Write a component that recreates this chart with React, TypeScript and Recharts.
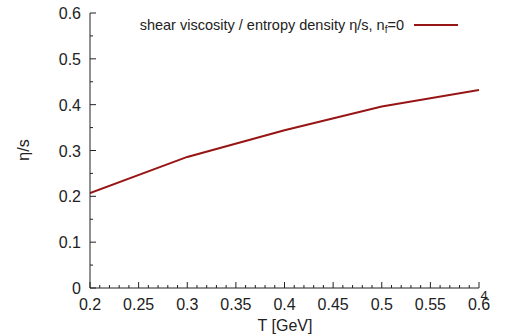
import { Line, LineChart, XAxis, YAxis } from "recharts";

const temperature = [0.2, 0.3, 0.4, 0.5, 0.6];
const etaOverS = [0.207, 0.286, 0.344, 0.396, 0.432];

const xMajor = [0.2, 0.25, 0.3, 0.35, 0.4, 0.45, 0.5, 0.55, 0.6];
const xAll = Array.from({ length: 41 }, (_, i) => +(0.2 + i * 0.01).toFixed(2));
const yMajor = [0, 0.1, 0.2, 0.3, 0.4, 0.5, 0.6];
const yAll = Array.from({ length: 13 }, (_, i) => +(i * 0.05).toFixed(2));

const data = temperature.map((t, i) => ({ t, v: etaOverS[i] }));

const FONT = "'Liberation Sans', Arial, sans-serif";
const LINE_COLOR = "#971515";

const isMajor = (list: number[], v: number) => list.some((m) => Math.abs(m - v) < 1e-6);

// gnuplot-style ticks: drawn inward, labels only on the majors
const BottomTick = ({ x, y, payload }: any) => {
  const major = isMajor(xMajor, payload.value);
  return (
    <g>
      <line x1={x} x2={x} y1={y} y2={y - (major ? 6 : 3)} stroke="#222" />
      {major && (
        <text x={x} y={y + 22} textAnchor="middle" fontSize={16} fill="#222" fontFamily={FONT}>
          {String(payload.value)}
        </text>
      )}
    </g>
  );
};

const TopTick = ({ x, y, payload }: any) => {
  const major = isMajor(xMajor, payload.value);
  return <line x1={x} x2={x} y1={y} y2={y + (major ? 6 : 3)} stroke="#222" />;
};

const LeftTick = ({ x, y, payload }: any) => {
  const major = isMajor(yMajor, payload.value);
  return (
    <g>
      <line x1={x} x2={x + (major ? 6 : 3)} y1={y} y2={y} stroke="#222" />
      {major && (
        <text x={x - 9} y={y + 6} textAnchor="end" fontSize={16} fill="#222" fontFamily={FONT}>
          {String(payload.value)}
        </text>
      )}
    </g>
  );
};

const RightTick = ({ x, y, payload }: any) => {
  const major = isMajor(yMajor, payload.value);
  return <line x1={x} x2={x - (major ? 6 : 3)} y1={y} y2={y} stroke="#222" />;
};

export default function App() {
  return (
    <div style={{ position: "fixed", left: 0, top: 0, width: 506, height: 336, background: "#fff" }}>
      <LineChart width={506} height={336} data={data} margin={{ top: 13, right: 27, left: 0, bottom: 0 }}>
        <XAxis
          xAxisId="bottom"
          dataKey="t"
          type="number"
          domain={[0.2, 0.6]}
          allowDataOverflow
          ticks={xAll}
          interval={0}
          tickSize={0}
          tickMargin={0}
          tickLine={false}
          tick={<BottomTick />}
          axisLine={{ stroke: "#222" }}
          height={48}
        />
        <XAxis
          xAxisId="top"
          orientation="top"
          type="number"
          domain={[0.2, 0.6]}
          allowDataOverflow
          ticks={xAll}
          interval={0}
          tickSize={0}
          tickMargin={0}
          tickLine={false}
          tick={<TopTick />}
          axisLine={{ stroke: "#222" }}
          height={0}
        />
        <YAxis
          yAxisId="left"
          type="number"
          domain={[0, 0.6]}
          allowDataOverflow
          ticks={yAll}
          interval={0}
          tickSize={0}
          tickMargin={0}
          tickLine={false}
          tick={<LeftTick />}
          axisLine={{ stroke: "#222" }}
          width={90}
        />
        <YAxis
          yAxisId="right"
          orientation="right"
          type="number"
          domain={[0, 0.6]}
          allowDataOverflow
          ticks={yAll}
          interval={0}
          tickSize={0}
          tickMargin={0}
          tickLine={false}
          tick={<RightTick />}
          axisLine={{ stroke: "#222" }}
          width={0}
        />
        <Line
          xAxisId="bottom"
          yAxisId="left"
          type="linear"
          dataKey="v"
          stroke={LINE_COLOR}
          strokeWidth={2}
          dot={false}
          isAnimationActive={false}
        />
        <text x={404} y={30} textAnchor="end" fontSize={14.5} fill="#222" fontFamily={FONT}>
          shear viscosity / entropy density η/s, n
          <tspan fontSize={10} dy={3}>f</tspan>
          <tspan dy={-3}>=0</tspan>
        </text>
        <line x1={414} x2={458} y1={25} y2={25} stroke={LINE_COLOR} strokeWidth={2} />
        <text
          x={29}
          y={150}
          transform="rotate(-90 29 150)"
          textAnchor="middle"
          fontSize={16}
          fill="#222"
          fontFamily={FONT}
        >
          η/s
        </text>
        <text x={285} y={331} textAnchor="middle" fontSize={16} fill="#222" fontFamily={FONT}>
          T [GeV]
        </text>
        <text x={484} y={300} textAnchor="middle" fontSize={13} fill="#222" fontFamily={FONT}>
          4
        </text>
      </LineChart>
    </div>
  );
}
